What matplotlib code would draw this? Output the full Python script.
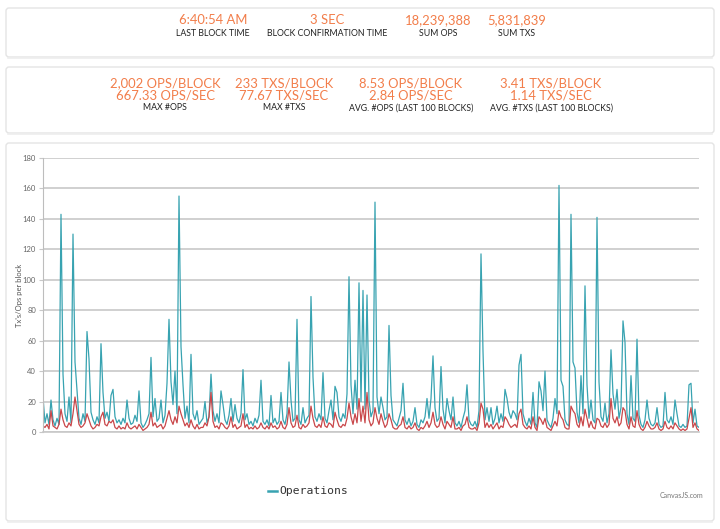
import numpy as np
import matplotlib
matplotlib.use('Agg')
from matplotlib import pyplot as plt
from matplotlib.patches import FancyBboxPatch

# per-block values (teal = operations, red = transactions)
ops = [
    23, 6, 12, 5, 21, 8, 4, 9, 5, 143,
    38, 12, 7, 23, 6, 130, 46, 27, 9, 5,
    12, 7, 66, 48, 13, 8, 5, 10, 6, 58,
    26, 9, 13, 7, 24, 28, 10, 6, 8, 5,
    9, 6, 21, 9, 5, 6, 11, 7, 27, 6,
    3, 5, 8, 12, 49, 10, 22, 7, 9, 21,
    6, 11, 32, 74, 33, 18, 40, 12, 155, 56,
    31, 9, 17, 6, 51, 12, 8, 14, 5, 7,
    9, 20, 6, 10, 38, 14, 7, 12, 6, 27,
    18, 8, 5, 11, 22, 7, 18, 9, 6, 12,
    41, 8, 12, 5, 7, 4, 9, 6, 11, 34,
    7, 5, 8, 4, 24, 6, 9, 5, 7, 26,
    8, 5, 12, 46, 21, 7, 9, 74, 8, 5,
    16, 6, 9, 11, 89, 36, 10, 7, 12, 8,
    39, 9, 6, 14, 21, 8, 30, 26, 10, 7,
    12, 9, 25, 102, 31, 12, 34, 15, 98, 20,
    93, 15, 90, 21, 10, 14, 151, 23, 12, 23,
    16, 8, 10, 70, 24, 8, 6, 4, 9, 14,
    32, 8, 5, 9, 4, 7, 16, 5, 3, 8,
    6, 10, 22, 9, 22, 50, 16, 7, 9, 43,
    15, 6, 22, 14, 8, 23, 6, 4, 7, 3,
    9, 14, 31, 8, 5, 4, 7, 3, 14, 117,
    53, 8, 16, 7, 16, 5, 9, 17, 6, 12,
    7, 28, 22, 13, 9, 14, 12, 8, 44, 51,
    12, 7, 4, 9, 5, 26, 6, 3, 33, 27,
    14, 40, 8, 5, 3, 9, 22, 12, 162, 34,
    30, 8, 5, 4, 143, 46, 42, 13, 6, 37,
    12, 96, 31, 9, 21, 8, 6, 141, 33, 10,
    7, 19, 6, 12, 54, 25, 15, 28, 9, 16,
    73, 59, 12, 5, 37, 9, 7, 61, 11, 5,
    3, 8, 21, 9, 5, 4, 6, 16, 5, 3,
    4, 26, 8, 6, 10, 5, 21, 12, 4, 3,
    5, 3, 4, 31, 32, 6, 15, 4, 3,
]
txs = [
    4, 3, 5, 2, 14, 4, 3, 2, 5, 15,
    8, 4, 3, 6, 4, 12, 23, 14, 5, 3,
    4, 6, 12, 8, 4, 2, 3, 5, 4, 10,
    13, 5, 4, 7, 6, 8, 3, 2, 4, 2,
    3, 2, 6, 3, 2, 3, 4, 2, 5, 3,
    1, 2, 3, 5, 13, 4, 6, 3, 4, 5,
    2, 4, 9, 14, 8, 5, 10, 6, 17, 12,
    8, 4, 6, 3, 8, 4, 2, 5, 2, 3,
    3, 6, 4, 10, 26, 7, 3, 4, 2, 6,
    5, 3, 2, 4, 10, 3, 5, 2, 3, 4,
    12, 3, 5, 2, 3, 2, 4, 2, 3, 6,
    3, 2, 4, 2, 6, 3, 4, 2, 3, 7,
    3, 2, 5, 16, 6, 3, 4, 11, 3, 2,
    5, 3, 4, 6, 17, 9, 4, 3, 5, 3,
    10, 4, 3, 6, 5, 3, 13, 8, 4, 3,
    5, 4, 9, 19, 10, 5, 12, 6, 22, 7,
    17, 6, 26, 8, 4, 6, 16, 9, 5, 12,
    7, 3, 5, 12, 8, 3, 2, 2, 4, 5,
    10, 3, 2, 4, 2, 3, 6, 2, 1, 3,
    2, 4, 7, 3, 6, 13, 5, 3, 4, 10,
    5, 2, 7, 5, 3, 10, 2, 2, 3, 1,
    4, 5, 10, 3, 2, 2, 3, 1, 6, 19,
    15, 3, 6, 3, 5, 2, 4, 6, 2, 4,
    3, 10, 8, 5, 3, 4, 5, 3, 12, 15,
    5, 3, 2, 4, 2, 10, 3, 1, 10, 8,
    5, 9, 3, 2, 1, 4, 7, 4, 14, 10,
    8, 3, 2, 2, 17, 14, 12, 5, 3, 10,
    4, 15, 9, 3, 7, 3, 2, 9, 8, 4,
    3, 6, 3, 5, 22, 9, 6, 10, 4, 6,
    16, 14, 5, 2, 10, 4, 3, 14, 5, 2,
    1, 3, 7, 4, 2, 2, 3, 6, 2, 1,
    2, 7, 3, 2, 4, 2, 6, 4, 2, 1,
    2, 1, 2, 9, 16, 3, 6, 2, 1,
]

top_values = ['6:40:54 AM', '3 SEC', '18,239,388', '5,831,839']
top_labels = ['LAST BLOCK TIME', 'BLOCK CONFIRMATION TIME', 'SUM OPS', 'SUM TXS']
mid_values = [('2,002 OPS/BLOCK', '667.33 OPS/SEC'), ('233 TXS/BLOCK', '77.67 TXS/SEC'),
              ('8.53 OPS/BLOCK', '2.84 OPS/SEC'), ('3.41 TXS/BLOCK', '1.14 TXS/SEC')]
mid_labels = ['MAX #OPS', 'MAX #TXS', 'AVG. #OPS (LAST 100 BLOCKS)', 'AVG. #TXS (LAST 100 BLOCKS)']

ORANGE = '#f27d4a'
TEAL = '#38a3b1'
RED = '#c9474a'
W, H = 720, 529

fig = plt.figure(figsize=(W / 100, H / 100), dpi=100)
fig.patch.set_facecolor('white')

# background layer in pixel coords
bg = fig.add_axes([0, 0, 1, 1])
bg.set_xlim(0, W)
bg.set_ylim(H, 0)
bg.axis('off')

for (y0, y1) in [(8, 57), (67, 133), (143, 521)]:
    bg.add_patch(FancyBboxPatch((6, y0), 708, y1 - y0, boxstyle='round,pad=0,rounding_size=3',
                                fc='white', ec='#e4e4e4', lw=1.0))
    bg.plot([8, 712], [y1 + 1, y1 + 1], color='#eeeeee', lw=1.2)

for x, v, l in zip([213, 327, 438, 517], top_values, top_labels):
    bg.text(x, 20, v, color=ORANGE, fontsize=9.4, family='Lato', ha='center', va='center')
    bg.text(x, 33, l, color='#222222', fontsize=6.3, family='Lato', ha='center', va='center')

for x, (v1, v2), l in zip([165, 284, 411, 551], mid_values, mid_labels):
    bg.text(x, 83, v1, color=ORANGE, fontsize=9.4, family='Lato', ha='center', va='center')
    bg.text(x, 96, v2, color=ORANGE, fontsize=9.4, family='Lato', ha='center', va='center')
    bg.text(x, 108, l, color='#222222', fontsize=6.3, family='Lato', ha='center', va='center')

# legend + credit
bg.plot([268, 277], [491, 491], color=TEAL, lw=1.8)
bg.text(279, 491, 'Operations', family='DejaVu Sans Mono', fontsize=8.2, color='#333333',
        ha='left', va='center')
bg.text(703, 495, 'CanvasJS.com', family='Lato', fontsize=5, color='#777777', ha='right', va='center')

# chart
ax = fig.add_axes([43 / W, (H - 432) / H, 656 / W, 274 / H])
x = np.arange(len(ops))
ax.plot(x, ops, color=TEAL, lw=0.9)
ax.plot(x, txs, color=RED, lw=0.9)
ax.set_xlim(0, len(ops) - 1)
ax.set_ylim(0, 180)
ax.set_yticks(range(0, 181, 20))
ax.set_xticks([])
ax.grid(axis='y', color='#c8c8c8', lw=1.2)
ax.set_axisbelow(True)
for s in ['top', 'right']:
    ax.spines[s].set_visible(False)
ax.spines['left'].set_color('#bdbdbd')
ax.spines['bottom'].set_color('#c8c8c8')
ax.spines['bottom'].set_linewidth(1.2)
ax.tick_params(axis='y', length=3, color='#c8c8c8', labelsize=5.5, labelcolor='#666666', pad=2)
for t in ax.get_yticklabels():
    t.set_family('Lato')
ax.set_ylabel("Tx's/Ops per block", fontsize=5.5, color='#555555', family='Lato', labelpad=0)
ax.patch.set_alpha(0)

fig.savefig('out.png', dpi=100)
